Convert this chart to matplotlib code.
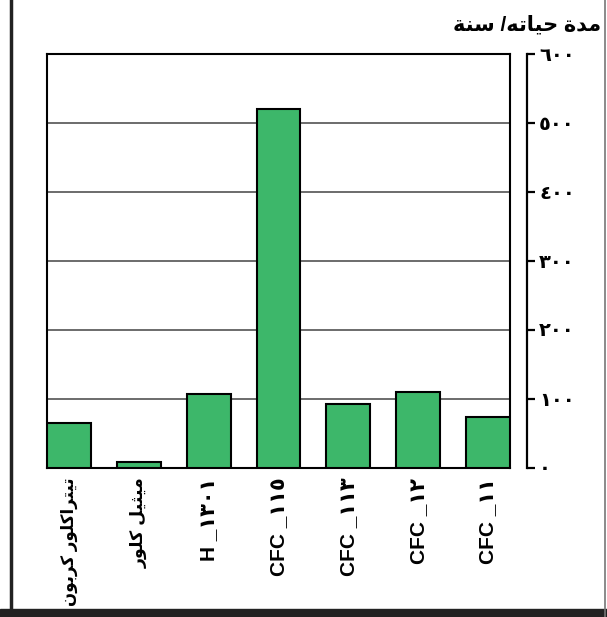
'''
    Atmospheric lifetime of ozone depleting gases (bar chart, Arabic labels).
'''

import matplotlib
matplotlib.use("Agg")
import matplotlib.pyplot as plt
from matplotlib.lines import Line2D
from matplotlib.patches import Rectangle

gases = ["تيتراكلور كربون", "ميثيل كلور", "H _١٣٠١", "CFC _١١٥",
         "CFC _١١٣", "CFC _١٢", "CFC _١١"]
lifetimes = [65, 9, 107, 520, 93, 110, 74]
y_ticks = [0, 100, 200, 300, 400, 500, 600]
y_tick_labels = ["٠", "١٠٠", "٢٠٠", "٣٠٠", "٤٠٠", "٥٠٠", "٦٠٠"]
title = "مدة حياته/ سنة"

# isolated, final, initial, medial (Arabic presentation forms B)
FORMS = {
    'ا': ('\uFE8D', '\uFE8E', None, None),
    'ب': ('\uFE8F', '\uFE90', '\uFE91', '\uFE92'),
    'ة': ('\uFE93', '\uFE94', None, None),
    'ت': ('\uFE95', '\uFE96', '\uFE97', '\uFE98'),
    'ث': ('\uFE99', '\uFE9A', '\uFE9B', '\uFE9C'),
    'ح': ('\uFEA1', '\uFEA2', '\uFEA3', '\uFEA4'),
    'د': ('\uFEA9', '\uFEAA', None, None),
    'ر': ('\uFEAD', '\uFEAE', None, None),
    'س': ('\uFEB1', '\uFEB2', '\uFEB3', '\uFEB4'),
    'ك': ('\uFED9', '\uFEDA', '\uFEDB', '\uFEDC'),
    'ل': ('\uFEDD', '\uFEDE', '\uFEDF', '\uFEE0'),
    'م': ('\uFEE1', '\uFEE2', '\uFEE3', '\uFEE4'),
    'ن': ('\uFEE5', '\uFEE6', '\uFEE7', '\uFEE8'),
    'ه': ('\uFEE9', '\uFEEA', '\uFEEB', '\uFEEC'),
    'و': ('\uFEED', '\uFEEE', None, None),
    'ي': ('\uFEF1', '\uFEF2', '\uFEF3', '\uFEF4'),
}


def shape(text):
    # matplotlib has no bidi / shaping, so do it by hand
    if not any(c in FORMS for c in text):
        return text
    out = []
    for i, ch in enumerate(text):
        if ch not in FORMS:
            out.append(ch)
            continue
        prev = text[i - 1] if i > 0 else ''
        nxt = text[i + 1] if i + 1 < len(text) else ''
        join_prev = prev in FORMS and FORMS[prev][2] is not None
        join_next = FORMS[ch][2] is not None and nxt in FORMS
        iso, fin, ini, med = FORMS[ch]
        if join_prev and join_next:
            out.append(med)
        elif join_prev:
            out.append(fin)
        elif join_next:
            out.append(ini)
        else:
            out.append(iso)
    return ''.join(reversed(out))


FONT = ["Liberation Sans", "DejaVu Sans"]

fig = plt.figure(figsize=(6.07, 6.17), dpi=100)
ax = fig.add_axes([47 / 607, 149 / 617, 463 / 607, 414 / 617])

width = 44 / 70
x = list(range(len(gases)))
ax.bar(x, lifetimes, width=width, color="#3db76a", edgecolor="black",
       linewidth=1.5, zorder=3)
for v in y_ticks[1:-1]:
    ax.axhline(v, color="#444444", linewidth=1.1, zorder=1)

ax.set_xlim(-width / 2, len(gases) - 1 + width / 2)
ax.set_ylim(0, 600)
ax.set_yticks([])
ax.set_xticks(x)
labels = ax.set_xticklabels([shape(g) for g in gases], rotation=90, va="top",
                            fontsize=15, fontweight="bold", family=FONT)
labels[0].set_fontsize(12)
labels[1].set_fontsize(12.5)
ax.tick_params(axis="x", length=0, pad=7)
for s in ax.spines.values():
    s.set_linewidth(1.5)

ax2 = ax.twinx()
ax2.set_ylim(0, 600)
for name in ["left", "top", "bottom"]:
    ax2.spines[name].set_visible(False)
ax2.spines["right"].set_position(("outward", 12))
ax2.spines["right"].set_linewidth(1.6)
ax2.set_yticks(y_ticks)
ax2.set_yticklabels(y_tick_labels, fontsize=14, fontweight="bold", family=FONT)
ax2.tick_params(axis="y", direction="out", length=6, width=1.6, pad=3)

fig.text(601 / 607, 1 - 25 / 617, shape(title), ha="right", va="center",
         fontsize=15, fontweight="bold", family=FONT)

# outer frame of the scanned figure
fig.add_artist(Line2D([11 / 607, 11 / 607], [0, 1], color="#222222",
                      linewidth=2.5, transform=fig.transFigure))
fig.add_artist(Line2D([605 / 607, 605 / 607], [0, 1], color="#777777",
                      linewidth=1.2, transform=fig.transFigure))
fig.add_artist(Rectangle((0, 0), 1, 8 / 617, color="#222222",
                         transform=fig.transFigure))

fig.savefig("out.png", dpi=100)
